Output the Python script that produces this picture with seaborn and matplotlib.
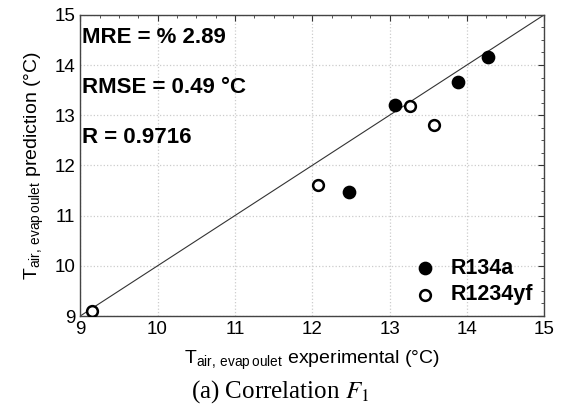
import numpy as np
import pandas as pd
import matplotlib.pyplot as plt
import seaborn as sns
from matplotlib.ticker import MultipleLocator

# valores
r134a_exp = [13.07, 13.88, 14.28, 12.47]
r134a_pred = [13.20, 13.66, 14.15, 11.47]
r1234yf_exp = [9.15, 12.07, 13.27, 13.58]
r1234yf_pred = [9.10, 11.60, 13.18, 12.80]
stats_labels = ["MRE = % 2.89", "RMSE = 0.49 °C", "R = 0.9716"]
stats_y = [14.55, 13.55, 12.55]

df = pd.DataFrame({
    "exp": r134a_exp + r1234yf_exp,
    "pred": r134a_pred + r1234yf_pred,
    "fluido": ["R134a"] * len(r134a_exp) + ["R1234yf"] * len(r1234yf_exp),
})

sns.set_style("white")
plt.rcParams["font.family"] = ["Liberation Sans", "DejaVu Sans"]
plt.rcParams["mathtext.fontset"] = "custom"
plt.rcParams["mathtext.rm"] = "Liberation Sans"
plt.rcParams["text.color"] = "black"
plt.rcParams["axes.labelcolor"] = "black"

fig = plt.figure(figsize=(5.61, 4.12), dpi=100)
ax = fig.add_axes([0.143, 0.233, 0.827, 0.731])

ax.plot([9, 15], [9, 15], color="#333333", lw=0.8, zorder=1)

sns.scatterplot(data=df[df.fluido == "R134a"], x="exp", y="pred", ax=ax,
                color="black", edgecolor="black", s=70, linewidth=1.5,
                label="R134a", zorder=3)
sns.scatterplot(data=df[df.fluido == "R1234yf"], x="exp", y="pred", ax=ax,
                color="white", edgecolor="black", s=60, linewidth=1.8,
                label="R1234yf", zorder=3)

for txt, yy in zip(stats_labels, stats_y):
    ax.text(9.02, yy, txt, fontsize=16, fontweight="bold", va="center",
            color="black")

ax.set_xlim(9, 15)
ax.set_ylim(9, 15)
ax.xaxis.set_major_locator(MultipleLocator(1))
ax.yaxis.set_major_locator(MultipleLocator(1))
ax.xaxis.set_minor_locator(MultipleLocator(0.25))
ax.yaxis.set_minor_locator(MultipleLocator(0.25))
ax.grid(True, which="major", color="#cccccc", linestyle=":", linewidth=0.9)
ax.tick_params(which="both", direction="in", top=True, right=True,
               labelsize=13.5, colors="#333333", labelcolor="black")
ax.tick_params(which="major", length=4)
ax.tick_params(which="minor", length=2)
for sp in ax.spines.values():
    sp.set_color("#444444")
    sp.set_linewidth(1.0)

ax.set_xlabel(r"T$_{\mathrm{air,\,evap\,oulet}}$ experimental (°C)", fontsize=14, labelpad=8)
ax.set_ylabel(r"T$_{\mathrm{air,\,evap\,oulet}}$ prediction (°C)", fontsize=14, labelpad=6)

leg = ax.legend(loc="lower right", frameon=False, handletextpad=0.2,
                borderaxespad=0.1, labelspacing=0.25,
                prop={"weight": "bold", "size": 15.5})
for t in leg.get_texts():
    t.set_color("black")

fig.text(0.5, 0.035, r"(a) Correlation $\mathit{F_1}$", ha="center",
         fontsize=18, family="Liberation Serif", math_fontfamily="stix")

fig.savefig("out.png", dpi=100)
